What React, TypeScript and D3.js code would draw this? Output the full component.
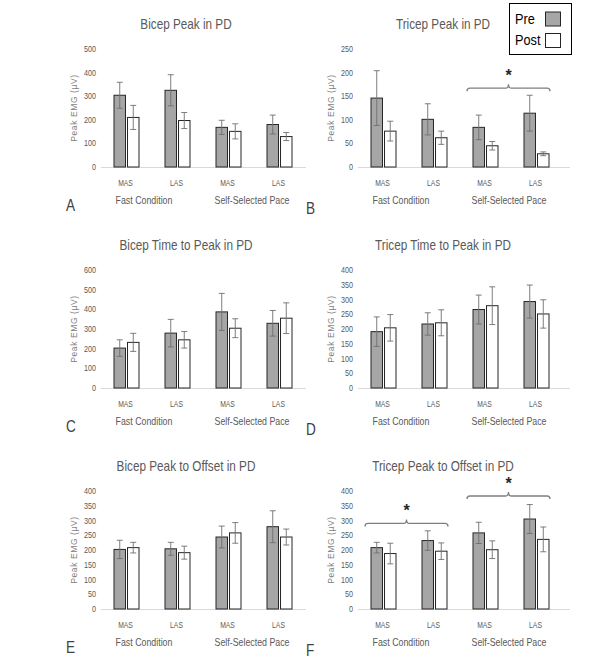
import * as d3 from 'd3';

// values
const panelTitles = [
  'Bicep Peak in PD',
  'Tricep Peak in PD',
  'Bicep Time to Peak in PD',
  'Tricep Time to Peak in PD',
  'Bicep Peak to Offset in PD',
  'Tricep Peak to Offset in PD',
];
const panelLetters = ['A', 'B', 'C', 'D', 'E', 'F'];
const categories = ['MAS', 'LAS', 'MAS', 'LAS'];
const groups = ['Fast Condition', 'Self-Selected Pace'];
const seriesNames = ['Pre', 'Post'];
const yAxisTitle = 'Peak EMG  (µV)';

const yMaxes = [500, 250, 600, 400, 400, 400];
const yTickSteps = [100, 50, 100, 50, 50, 50];

const preMeans = [
  [304, 325, 168, 180],
  [146, 101, 84, 114],
  [203, 279, 387, 329],
  [191, 217, 266, 293],
  [202, 204, 244, 279],
  [208, 232, 258, 305],
];
const preErrors = [
  [55, 66, 30, 40],
  [58, 33, 26, 38],
  [42, 70, 94, 65],
  [50, 38, 49, 56],
  [31, 22, 37, 54],
  [18, 33, 36, 49],
];
const postMeans = [
  [210, 197, 151, 129],
  [76, 62, 45, 28],
  [232, 245, 304, 355],
  [204, 221, 279, 251],
  [208, 191, 258, 244],
  [188, 196, 201, 236],
];
const postErrors = [
  [51, 34, 32, 17],
  [21, 14, 9, 4],
  [46, 42, 48, 78],
  [45, 44, 64, 48],
  [18, 22, 35, 27],
  [35, 28, 30, 42],
];

// significance brackets: panel index, first/last category, height in data units
const brackets = [
  { panel: 1, from: 2, to: 3, level: 167 },
  { panel: 5, from: 0, to: 1, level: 290 },
  { panel: 5, from: 2, to: 3, level: 383 },
];

const W = 615;
const H = 671;
const FONT = "'Liberation Sans', Arial, sans-serif";
const NARROW = 0.84; // horizontal squeeze to mimic Calibri Light
const columns = [
  { left: 101, right: 305, lineEnd: 306, letterX: 66, letterDy: 44 },
  { left: 358, right: 562, lineEnd: 570, letterX: 306, letterDy: 47 },
];
const rowBase = [167, 388, 609];
const plotH = 118;
const fills = ['#a6a6a6', '#ffffff'];

// narrow text: real <text>, squeezed around its anchor point
function T({ x, y, size, fill = '#595959', anchor = 'start', sx = NARROW, children, ...rest }: any) {
  return (
    <text
      transform={`translate(${x},${y}) scale(${sx},1)`}
      textAnchor={anchor}
      fontSize={size}
      fill={fill}
      {...rest}
    >
      {children}
    </text>
  );
}

function Panel({ index }: { index: number }) {
  const col = columns[index % 2];
  const base = rowBase[Math.floor(index / 2)];
  const yMax = yMaxes[index];

  const x = d3.scaleBand<number>().domain(d3.range(categories.length)).range([col.left, col.right]);
  const sub = d3.scaleBand<string>().domain(seriesNames).range([13, x.bandwidth() - 13]).paddingInner(0.15);
  const y = d3.scaleLinear().domain([0, yMax]).range([base, base - plotH]);
  const ticks = d3.range(0, yMax + 1, yTickSteps[index]);

  const means = [preMeans[index], postMeans[index]];
  const errs = [preErrors[index], postErrors[index]];

  return (
    <g fontFamily={FONT}>
      <T x={col.left + 85} y={base - 138} anchor="middle" size={14}>
        {panelTitles[index]}
      </T>
      {ticks.map(t => (
        <T key={t} x={col.left - 5} y={y(t) + 3} anchor="end" size={9} sx={0.8}>
          {t}
        </T>
      ))}
      <text
        transform={`translate(${col.left - 24},${base - plotH / 2}) rotate(-90)`}
        textAnchor="middle"
        fontSize={8.5}
        letterSpacing={0.6}
        fill="#7f7f7f"
      >
        {yAxisTitle}
      </text>
      <line x1={col.left} x2={col.lineEnd} y1={base + 0.5} y2={base + 0.5} stroke="#d9d9d9" />
      {categories.map((c, ci) => (
        <g key={ci}>
          {seriesNames.map((s, si) => {
            const bx = (x(ci) ?? 0) + (sub(s) ?? 0);
            const bw = sub.bandwidth();
            const top = y(means[si][ci]);
            const cx = bx + bw / 2;
            const hi = y(means[si][ci] + errs[si][ci]);
            const lo = y(means[si][ci] - errs[si][ci]);
            return (
              <g key={s}>
                <rect x={bx} y={top} width={bw} height={base - top} fill={fills[si]} stroke="#262626" strokeWidth={1} />
                <line x1={cx} x2={cx} y1={hi} y2={lo} stroke="#6f6f6f" strokeWidth={0.9} />
                <line x1={cx - 3} x2={cx + 3} y1={hi} y2={hi} stroke="#6f6f6f" strokeWidth={0.9} />
                <line x1={cx - 3} x2={cx + 3} y1={lo} y2={lo} stroke="#6f6f6f" strokeWidth={0.9} />
              </g>
            );
          })}
          <T x={(x(ci) ?? 0) + x.bandwidth() / 2 - 1} y={base + 18.5} anchor="middle" size={8.5} sx={0.8}>
            {c}
          </T>
        </g>
      ))}
      {groups.map((g, gi) => (
        <T key={g} x={col.left + (gi === 0 ? 43 : 151)} y={base + 37} anchor="middle" size={10.5}>
          {g}
        </T>
      ))}
      <T x={col.letterX} y={base + col.letterDy} size={16} fill="#404040" sx={0.85}>
        {panelLetters[index]}
      </T>
      {brackets
        .filter(b => b.panel === index)
        .map((b, bi) => {
          const x1 = (x(b.from) ?? 0) + 7;
          const x2 = (x(b.to) ?? 0) + x.bandwidth() - 12;
          const xm = (x1 + x2) / 2;
          const by = y(b.level);
          const d = `M${x1},${by + 3} Q${x1},${by} ${x1 + 3},${by} L${xm - 3},${by} Q${xm},${by} ${xm},${by - 4} Q${xm},${by} ${xm + 3},${by} L${x2 - 3},${by} Q${x2},${by} ${x2},${by + 3}`;
          return (
            <g key={bi}>
              <path d={d} fill="none" stroke="#7f7f7f" strokeWidth={1.3} />
              <text x={xm} y={by - 7} textAnchor="middle" fontSize={16} fontWeight="bold" fill="#262626">
                *
              </text>
            </g>
          );
        })}
    </g>
  );
}

function Legend() {
  return (
    <g fontFamily={FONT}>
      <rect x={509.5} y={3.5} width={62} height={51} fill="#fff" stroke="#000" />
      {seriesNames.map((s, i) => (
        <g key={s}>
          <T x={515} y={24 + i * 21} size={15} fill="#000" sx={0.85}>
            {s}
          </T>
          <rect x={545.5} y={12 + i * 21.5} width={15} height={14} fill={fills[i]} stroke="#262626" />
        </g>
      ))}
    </g>
  );
}

export default function App() {
  return (
    <svg width={W} height={H} style={{ position: 'absolute', left: 0, top: 0, background: '#fff' }}>
      <rect width={W} height={H} fill="#fff" />
      {panelTitles.map((_, i) => (
        <Panel key={i} index={i} />
      ))}
      <Legend />
    </svg>
  );
}
